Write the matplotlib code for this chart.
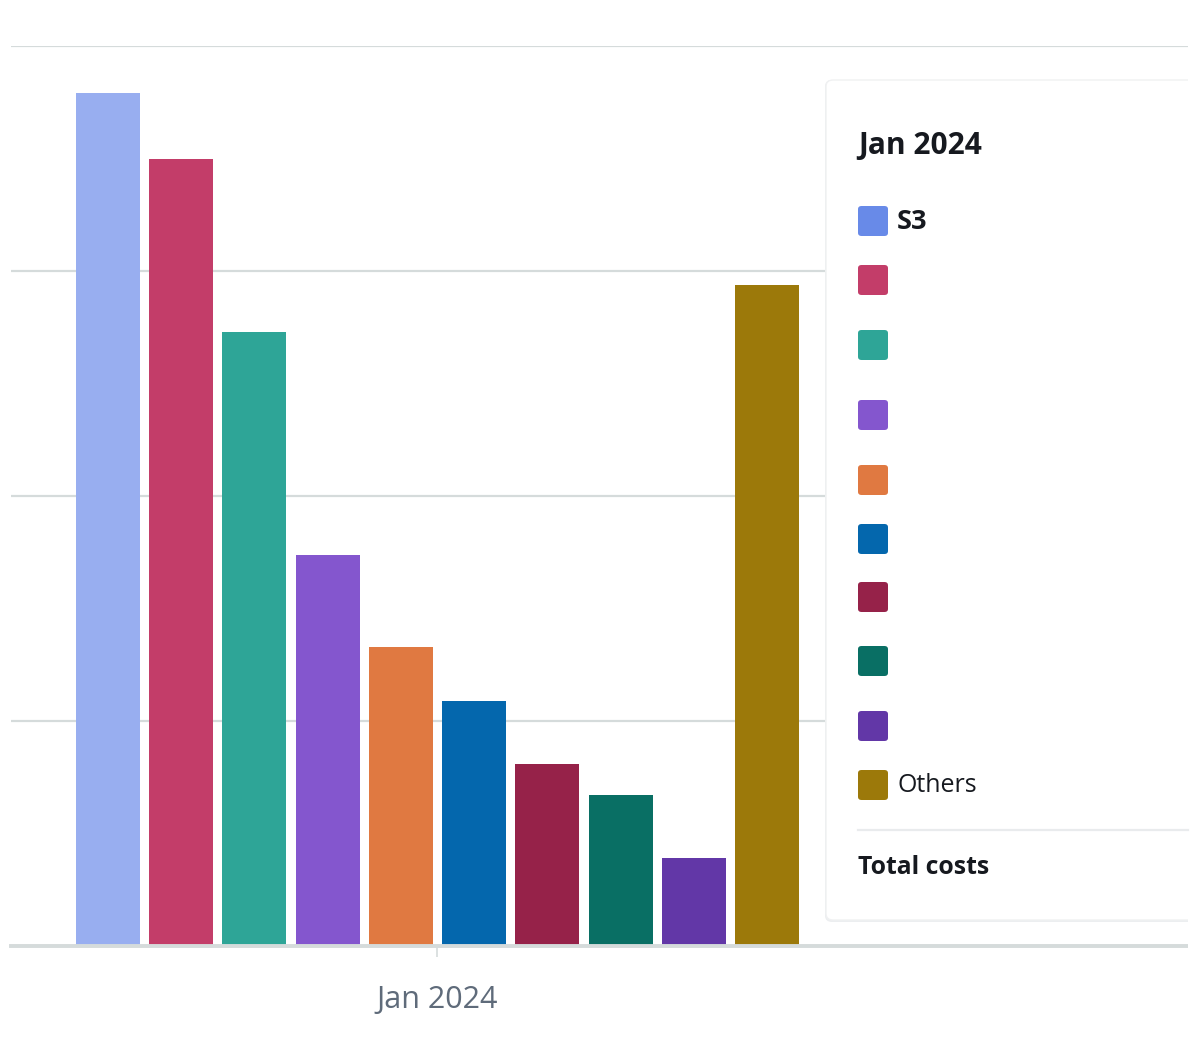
import matplotlib.pyplot as plt
from matplotlib.patches import FancyBboxPatch, Rectangle

# ---- dados ----
periodo = "Jan 2024"
servicos = ["S3", "", "", "", "", "", "", "", "", "Others"]
custos = [3.79, 3.50, 2.73, 1.74, 1.33, 1.09, 0.81, 0.67, 0.39, 2.94]
cores_barra = ["#98aef0", "#c33d69", "#2ea597", "#8456ce", "#e07941",
               "#0467ad", "#962249", "#096f64", "#6237a7", "#9c790a"]
cores_legenda = ["#688ae8", "#c33d69", "#2ea597", "#8456ce", "#e07941",
                 "#0467ad", "#962249", "#096f64", "#6237a7", "#9c790a"]

plt.rcParams['font.family'] = ['Open Sans', 'DejaVu Sans']

W, H = 1200, 1053
fig = plt.figure(figsize=(W / 100, H / 100), dpi=100)

def fx(px):
    return px / W

def fy(py):
    return 1 - py / H

ax = fig.add_axes([fx(11), fy(946), fx(1188) - fx(11), fy(46) - fy(946)])

largura_slot = 73.3
n = len(custos)
posicoes = [(i - (n - 1) / 2) for i in range(n)]
ax.bar(posicoes, custos, width=64 / largura_slot, color=cores_barra, zorder=3)

ax.set_xlim((11 - 437.5) / largura_slot, (1188 - 437.5) / largura_slot)
ax.set_ylim(0, 4)
ax.set_yticks([1, 2, 3, 4])
ax.yaxis.grid(True, color="#d5dbdb", linewidth=1.6, zorder=0)
ax.set_yticklabels([])
ax.tick_params(axis='y', length=0)
ax.set_xticks([0])
ax.set_xticklabels([periodo], fontsize=22, color="#5f6b7a")
ax.tick_params(axis='x', length=8, width=1.2, color="#d5dbdb", pad=20)
for lado in ["top", "right", "left"]:
    ax.spines[lado].set_visible(False)
ax.spines["bottom"].set_color("#d5dbdb")
ax.spines["bottom"].set_linewidth(2.8)
ax.spines["bottom"].set_zorder(4)

# ---- caixa da legenda (tooltip) ----
sombra = FancyBboxPatch((fx(825), fy(922)), fx(1240) - fx(825), fy(80) - fy(922),
                        boxstyle="round,pad=0,rounding_size=0.006",
                        transform=fig.transFigure, facecolor="#eceef0",
                        edgecolor="none", zorder=5)
caixa = FancyBboxPatch((fx(826), fy(920)), fx(1240) - fx(826), fy(80) - fy(920),
                       boxstyle="round,pad=0,rounding_size=0.006",
                       transform=fig.transFigure, facecolor="white",
                       edgecolor="#f0f1f2", linewidth=1, zorder=6)
fig.patches.extend([sombra, caixa])
fig.patches.append(Rectangle((fx(1188), 0), fx(1200) - fx(1188), 1,
                             transform=fig.transFigure, facecolor="white",
                             edgecolor="none", zorder=7))

fig.text(fx(858), fy(146), periodo, fontsize=21.5, fontweight="bold",
         color="#16191f", va="center", ha="left", zorder=8)

linhas_y = [221, 280, 345, 415, 480, 539, 597, 661, 726, 785]
for nome, cor, ly in zip(servicos, cores_legenda, linhas_y):
    fig.patches.append(FancyBboxPatch((fx(858), fy(ly + 15)), fx(888) - fx(858),
                                      fy(ly - 15) - fy(ly + 15),
                                      boxstyle="round,pad=0,rounding_size=0.003",
                                      transform=fig.transFigure, facecolor=cor,
                                      edgecolor="none", zorder=8))
    if nome:
        peso = "bold" if nome == "S3" else "normal"
        tam = 19.5 if nome == "S3" else 18
        fig.text(fx(897), fy(ly + 1), nome, fontsize=tam, fontweight=peso,
                 color="#16191f", va="center", ha="left", zorder=8)

fig.add_artist(plt.Line2D([fx(858), fx(1188)], [fy(830), fy(830)],
                          transform=fig.transFigure, color="#e9ebed",
                          linewidth=1.6, zorder=8))
fig.text(fx(858), fy(867), "Total costs", fontsize=17.8, fontweight="bold",
         color="#16191f", va="center", ha="left", zorder=8)

fig.savefig("out.png", dpi=100)
